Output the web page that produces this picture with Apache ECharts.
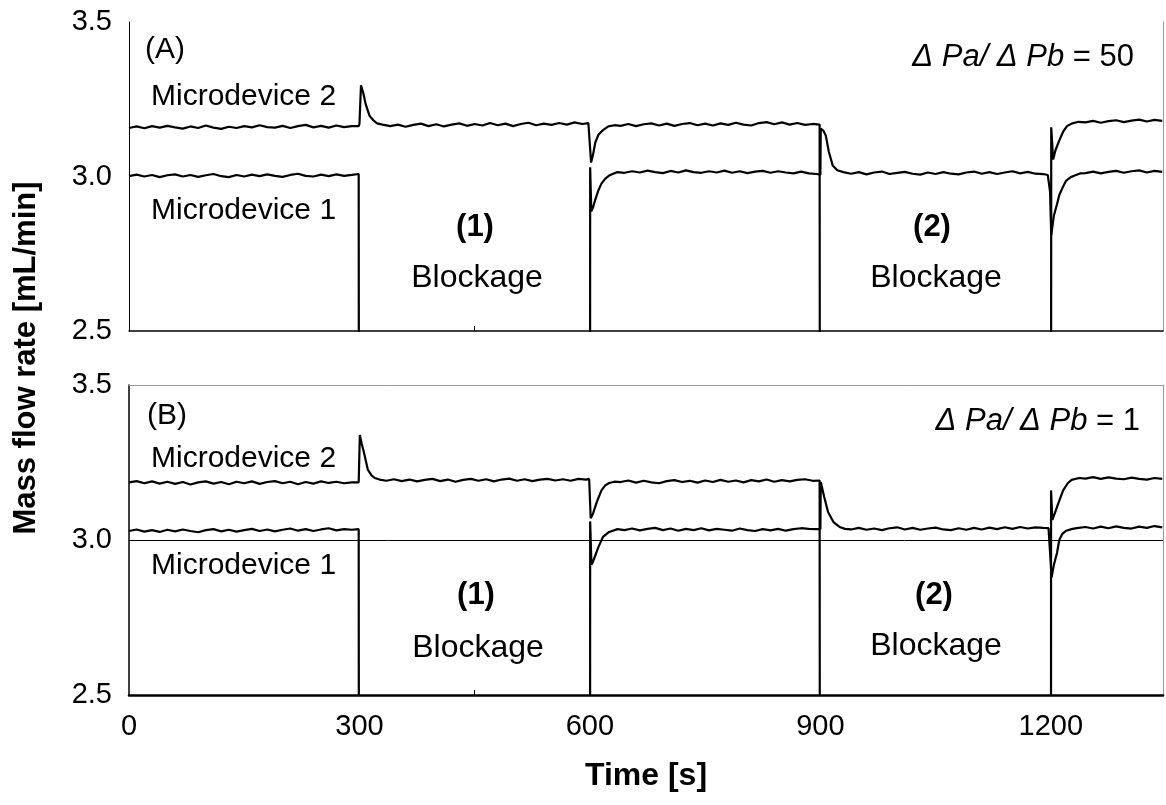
<!DOCTYPE html>
<html>
<head>
<meta charset="utf-8">
<script src="https://cdn.jsdelivr.net/npm/echarts@6/dist/echarts.min.js"></script>
<style>
html,body{margin:0;padding:0;background:#fff;}
#chart{width:1166px;height:805px;}
</style>
</head>
<body>
<div id="chart"></div>
<script>
// ---------- DATA ----------
const xTickLabels = [0, 300, 600, 900, 1200];
const yTickLabels = [2.5, 3.0, 3.5];

// Panel (A): Microdevice 2
const aM2Time = [0,10,20,30,40,50,60,70,80,90,100,110,120,130,140,150,160,170,180,190,200,210,220,230,240,250,260,270,280,290,
  299,300,302,305,308,313,318,323,
  330,340,350,360,370,380,390,400,410,420,430,440,450,460,470,480,490,500,510,520,530,540,550,560,570,580,590,
  598,600,601.5,604,607,611,617,624,632,
  640,650,660,670,680,690,700,710,720,730,740,750,760,770,780,790,800,810,820,830,840,850,860,870,880,890,
  899,900,1200,1200.5,1203,1206,1211,1216,1221,1228,1236,
  1245,1255,1265,1275,1285,1295,1305,1315,1325,1335,1345];
const aM2Val = [3.157,3.162,3.156,3.163,3.158,3.164,3.159,3.155,3.162,3.157,3.165,3.158,3.154,3.161,3.157,3.163,3.159,3.166,3.160,3.158,3.164,3.157,3.163,3.167,3.159,3.164,3.158,3.165,3.160,3.163,
  3.163,3.170,3.295,3.270,3.235,3.197,3.182,3.172,
  3.168,3.163,3.168,3.161,3.167,3.171,3.163,3.169,3.162,3.168,3.172,3.164,3.170,3.165,3.173,3.166,3.171,3.163,3.170,3.174,3.166,3.171,3.167,3.173,3.168,3.175,3.170,
  3.173,3.170,3.045,3.070,3.110,3.135,3.150,3.162,3.166,
  3.164,3.170,3.163,3.169,3.172,3.165,3.171,3.164,3.170,3.173,3.166,3.171,3.165,3.172,3.167,3.174,3.168,3.165,3.173,3.176,3.169,3.175,3.168,3.173,3.167,3.170,
  3.168,0,0,3.159,3.055,3.085,3.117,3.145,3.163,3.172,3.177,
  3.175,3.180,3.174,3.179,3.182,3.176,3.181,3.184,3.178,3.183,3.180];

// Panel (A): Microdevice 1
const aM1Time = [0,10,20,30,40,50,60,70,80,90,100,110,120,130,140,150,160,170,180,190,200,210,220,230,240,250,260,270,280,290,
  299,300,600,600.3,601.8,604,607,611,615,620,625,635,
  645,655,665,675,685,695,705,715,725,735,745,755,765,775,785,795,805,815,825,835,845,855,865,875,885,895,
  900,900.5,904,907,911,916,922,930,
  940,950,960,970,980,990,1000,1010,1020,1030,1040,1050,1060,1070,1080,1090,1100,1110,1120,1130,1140,1150,1160,1170,1180,1190,
  1196,1199,1200.5,1204,1208,1211,1216,1220,1226,1231,1238,
  1245,1255,1265,1275,1285,1295,1305,1315,1325,1335,1345];
const aM1Val = [3.001,3.006,3.000,3.005,2.998,3.004,3.007,3.000,3.005,2.999,3.004,3.008,3.001,2.998,3.005,3.000,3.006,3.001,3.007,3.002,2.999,3.005,3.009,3.002,3.000,3.006,3.001,3.007,3.002,3.005,
  3.008,0,0,3.030,2.887,2.900,2.925,2.955,2.977,2.993,3.003,3.014,
  3.012,3.017,3.013,3.019,3.014,3.011,3.018,3.013,3.020,3.014,3.012,3.017,3.013,3.019,3.012,3.017,3.011,3.016,3.018,3.012,3.017,3.013,3.010,3.016,3.010,3.008,
  3.006,3.155,3.148,3.133,3.080,3.036,3.020,3.014,
  3.009,3.014,3.007,3.013,3.016,3.008,3.012,3.015,3.009,3.006,3.013,3.008,3.014,3.009,3.007,3.013,3.016,3.009,3.014,3.008,3.013,3.017,3.010,3.015,3.009,3.008,
  3.005,2.950,2.810,2.874,2.910,2.940,2.968,2.987,2.998,3.003,3.010,
  3.011,3.016,3.010,3.015,3.018,3.012,3.017,3.020,3.013,3.018,3.015];

// Panel (B): Microdevice 2
const bM2Time = [0,10,20,30,40,50,60,70,80,90,100,110,120,130,140,150,160,170,180,190,200,210,220,230,240,250,260,270,280,290,
  299,300.5,303,306,311,316,320,326,
  335,345,355,365,375,385,395,405,415,425,435,445,455,465,475,485,495,505,515,525,535,545,555,565,575,585,595,
  599,601,604,609,615,620,625,632,
  640,650,660,670,680,690,700,710,720,730,740,750,760,770,780,790,800,810,820,830,840,850,860,870,880,890,
  899,900,1200,1200.3,1202,1205,1209,1216,1222,1227,1237,
  1245,1255,1265,1275,1285,1295,1305,1315,1325,1335,1345];
const bM2Val = [3.186,3.190,3.183,3.189,3.182,3.188,3.181,3.187,3.179,3.186,3.189,3.182,3.187,3.180,3.188,3.183,3.189,3.181,3.187,3.190,3.183,3.188,3.180,3.187,3.182,3.189,3.184,3.188,3.183,3.186,
  3.186,3.339,3.310,3.281,3.226,3.208,3.200,3.195,
  3.191,3.196,3.190,3.195,3.189,3.194,3.197,3.190,3.195,3.188,3.194,3.197,3.191,3.196,3.189,3.195,3.198,3.191,3.196,3.190,3.195,3.197,3.192,3.196,3.191,3.197,3.195,
  3.197,3.070,3.085,3.123,3.160,3.176,3.184,3.188,
  3.187,3.192,3.185,3.191,3.186,3.183,3.190,3.193,3.187,3.191,3.185,3.192,3.187,3.194,3.188,3.192,3.186,3.193,3.189,3.195,3.188,3.193,3.189,3.194,3.196,3.191,
  3.192,0,0,3.160,3.065,3.085,3.113,3.160,3.183,3.194,3.200,
  3.198,3.203,3.197,3.202,3.198,3.196,3.201,3.197,3.195,3.200,3.197];

// Panel (B): Microdevice 1
const bM1Time = [0,10,20,30,40,50,60,70,80,90,100,110,120,130,140,150,160,170,180,190,200,210,220,230,240,250,260,270,280,290,
  299,300,600,600.3,602,604,607,611,617,625,636,
  645,655,665,675,685,695,705,715,725,735,745,755,765,775,785,795,805,815,825,835,845,855,865,875,885,895,
  900,900.5,905,910,917,925,932,
  940,950,960,970,980,990,1000,1010,1020,1030,1040,1050,1060,1070,1080,1090,1100,1110,1120,1130,1140,1150,1160,1170,1180,1190,
  1197,1201,1204,1208,1211,1215,1220,1228,1236,
  1245,1255,1265,1275,1285,1295,1305,1315,1325,1335,1345];
const bM1Val = [3.029,3.034,3.027,3.032,3.026,3.033,3.028,3.034,3.029,3.025,3.032,3.035,3.028,3.033,3.027,3.032,3.036,3.029,3.034,3.028,3.033,3.037,3.030,3.035,3.029,3.034,3.038,3.031,3.035,3.033,
  3.035,0,0,3.060,2.920,2.930,2.950,2.977,3.010,3.026,3.035,
  3.032,3.037,3.031,3.036,3.039,3.032,3.037,3.030,3.036,3.032,3.038,3.031,3.036,3.033,3.030,3.037,3.032,3.029,3.035,3.031,3.036,3.030,3.035,3.038,3.036,3.035,
  3.035,3.187,3.139,3.090,3.058,3.042,3.036,
  3.034,3.039,3.033,3.037,3.032,3.038,3.041,3.034,3.039,3.033,3.037,3.040,3.034,3.032,3.038,3.033,3.039,3.034,3.040,3.035,3.041,3.036,3.042,3.037,3.041,3.039,
  3.038,2.880,2.920,2.958,3.000,3.020,3.030,3.036,3.039,
  3.042,3.037,3.043,3.038,3.044,3.039,3.037,3.043,3.039,3.045,3.041];

// ---------- CHART ----------
const FONT = '"Liberation Sans", Arial, sans-serif';
const pair = (ts, vs) => ts.map((t, i) => [t, vs[i]]);
const chart = echarts.init(document.getElementById('chart'), null, {renderer: 'canvas'});

const X_MAX = 1346;
function xAxisBase(gridIndex, showLabels, lineWidth) {
  return {
    type: 'value', gridIndex: gridIndex, min: 0, max: X_MAX, interval: 300,
    axisLine: {show: true, onZero: false, lineStyle: {color: '#000', width: lineWidth}},
    axisTick: {show: true, inside: true, length: 5, customValues: [450], lineStyle: {color: '#000', width: 1}},
    splitLine: {show: false},
    axisLabel: {
      show: showLabels, fontSize: 29, color: '#000', fontFamily: FONT, margin: 17,
      formatter: v => (xTickLabels.indexOf(v) >= 0 ? String(v) : '')
    }
  };
}
function yAxisBase(gridIndex, lineWidth) {
  return {
    type: 'value', gridIndex: gridIndex, min: yTickLabels[0], max: yTickLabels[yTickLabels.length - 1], interval: 0.5,
    axisLine: {show: true, onZero: false, lineStyle: {color: '#000', width: lineWidth}},
    axisTick: {show: false},
    splitLine: {show: false},
    axisLabel: {fontSize: 29, color: '#000', fontFamily: FONT, margin: 17, formatter: v => v.toFixed(1)}
  };
}
function borderY(gridIndex) {
  return {
    type: 'value', gridIndex: gridIndex, position: 'right', min: 2.5, max: 3.5,
    axisLine: {show: true, onZero: false, lineStyle: {color: '#999', width: 1}},
    axisTick: {show: false}, axisLabel: {show: false}, splitLine: {show: false}
  };
}

const lineStyle = {color: '#000', width: 2.2};
function lineSeries(xi, yi, data) {
  return {type: 'line', xAxisIndex: xi, yAxisIndex: yi, data: data, showSymbol: false, symbol: 'none',
    lineStyle: lineStyle, clip: true, animation: false, silent: true};
}

const txt = (x, y, text, opts) => Object.assign({
  type: 'text', x: x, y: y,
  style: Object.assign({text: text, font: '30px ' + FONT, fill: '#000', textAlign: 'left', textVerticalAlign: 'middle'}, opts || {})
});

const deltaRich = {
  i: {fontStyle: 'italic', fontSize: 31, fontFamily: FONT, fill: '#000'},
  n: {fontSize: 31, fontFamily: FONT, fill: '#000'}
};

const option = {
  backgroundColor: '#fff',
  animation: false,
  grid: [
    {left: 129, top: 22, width: 1034, height: 309, show: false},
    {left: 129, top: 385, width: 1034, height: 310, show: false}
  ],
  xAxis: [
    xAxisBase(0, false, 1.5),
    Object.assign(xAxisBase(1, true, 2.5), {
      name: 'Time [s]', nameLocation: 'middle', nameGap: 65,
      nameTextStyle: {fontSize: 32, fontWeight: 'bold', color: '#000', fontFamily: FONT}
    }),
    {type: 'value', gridIndex: 1, position: 'top', min: 0, max: X_MAX,
      axisLine: {show: true, onZero: false, lineStyle: {color: '#999', width: 1}},
      axisTick: {show: false}, axisLabel: {show: false}, splitLine: {show: false}}
  ],
  yAxis: [
    yAxisBase(0, 1),
    borderY(0),
    yAxisBase(1, 1.5),
    borderY(1)
  ],
  series: [
    lineSeries(0, 0, pair(aM2Time, aM2Val)),
    lineSeries(0, 0, pair(aM1Time, aM1Val)),
    Object.assign(lineSeries(1, 2, pair(bM2Time, bM2Val)), {
      markLine: {silent: true, symbol: 'none', label: {show: false},
        lineStyle: {color: '#000', width: 1, type: 'solid'}, data: [{yAxis: 3.0}]}
    }),
    lineSeries(1, 2, pair(bM1Time, bM1Val))
  ],
  graphic: [
    // y axis title
    {type: 'text', x: 26, y: 358, rotation: Math.PI / 2,
      style: {text: 'Mass flow rate [mL/min]', font: 'bold 31px ' + FONT, fill: '#000', textAlign: 'center', textVerticalAlign: 'middle'}},
    // Panel A annotations
    txt(145, 50, '(A)'),
    txt(151, 97, 'Microdevice 2'),
    txt(151, 211, 'Microdevice 1'),
    txt(475, 227, '(1)', {font: 'bold 31px ' + FONT, textAlign: 'center'}),
    txt(477, 278, 'Blockage', {font: '32px ' + FONT, textAlign: 'center'}),
    txt(932, 227, '(2)', {font: 'bold 31px ' + FONT, textAlign: 'center'}),
    txt(936, 278, 'Blockage', {font: '32px ' + FONT, textAlign: 'center'}),
    {type: 'text', x: 1134, y: 57, style: {text: '{i|Δ Pa/ Δ Pb}{n| = 50}', rich: deltaRich, textAlign: 'right', textVerticalAlign: 'middle'}},
    // Panel B annotations
    txt(147, 416, '(B)'),
    txt(151, 459, 'Microdevice 2'),
    txt(151, 566, 'Microdevice 1'),
    txt(476, 595, '(1)', {font: 'bold 31px ' + FONT, textAlign: 'center'}),
    txt(478, 648, 'Blockage', {font: '32px ' + FONT, textAlign: 'center'}),
    txt(934, 595, '(2)', {font: 'bold 31px ' + FONT, textAlign: 'center'}),
    txt(936, 646, 'Blockage', {font: '32px ' + FONT, textAlign: 'center'}),
    {type: 'text', x: 1140, y: 421, style: {text: '{i|Δ Pa/ Δ Pb}{n| = 1}', rich: deltaRich, textAlign: 'right', textVerticalAlign: 'middle'}}
  ]
};
chart.setOption(option);
</script>
</body>
</html>
